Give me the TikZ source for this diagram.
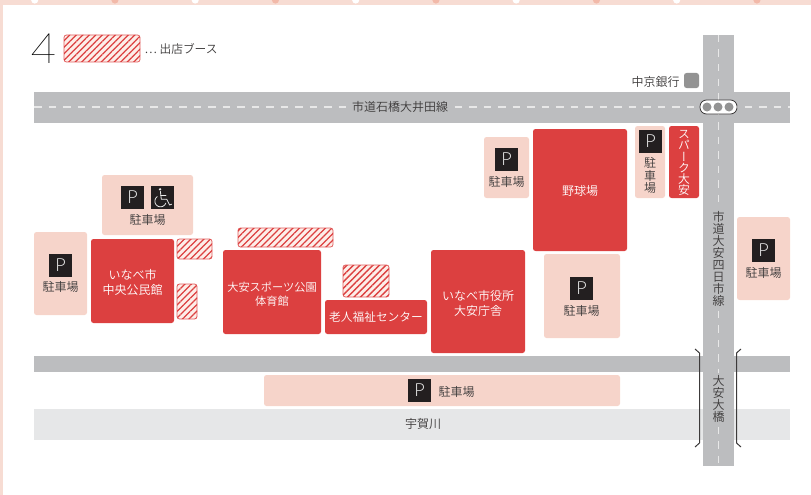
\documentclass[tikz,border=0pt]{standalone}
\usepackage{fontspec}
\usetikzlibrary{patterns.meta}
\setmainfont{Noto Sans CJK JP DemiLight}
\newfontfamily\vfont[RawFeature=+vert]{Noto Sans CJK JP DemiLight}
\newfontfamily\pfont{Lato Light}
\definecolor{redbox}{HTML}{DC4040}
\definecolor{lot}{HTML}{F6D4CA}
\definecolor{band}{HTML}{F7DCD3}
\definecolor{road}{HTML}{BCBDBF}
\definecolor{river}{HTML}{E6E7E8}
\definecolor{ink}{HTML}{3C3A3A}
\definecolor{iconbk}{HTML}{231F20}
\definecolor{dashc}{HTML}{E8E8E8}
\definecolor{hatchbg}{HTML}{FDEEE9}
\definecolor{dotpink}{HTML}{F2B9A9}
\tikzset{
  box/.style={inner sep=0pt,outer sep=0pt,rounded corners=2.5pt,align=center,font=\fontsize{12}{14.5}\selectfont},
  redb/.style={box,fill=redbox,text=white},
  lotb/.style={box,fill=lot},
  booth/.style={inner sep=0pt,outer sep=0pt,rounded corners=2.5pt,fill=hatchbg,draw=redbox!85,line width=0.8pt,
    postaction={pattern={Lines[angle=45,distance=4.6pt,line width=1.3pt]},pattern color=redbox}},
  picon/.style={fill=iconbk,text=white!92!black,minimum size=23pt,inner sep=0pt,outer sep=0pt,font=\pfont\fontsize{18}{18}\selectfont},
  lbl/.style={inner sep=0pt,text=ink,align=center,font=\fontsize{12}{12.5}\selectfont},
  wlbl/.style={lbl,text=white,font=\fontsize{12}{14.5}\selectfont},
  roadb/.style={fill=road,inner sep=0pt,outer sep=0pt},
  dashl/.style={draw=dashc,line width=1.2pt,dash pattern=on 7.5pt off 7pt},
  brk/.style={draw=ink,line width=1pt},
}
\newcommand\bx[7]{%
  \pgfmathsetmacro\cxx{(#2+#4)/2}\pgfmathsetmacro\cyy{(#3+#5)/2}%
  \pgfmathsetmacro\www{#4-#2}\pgfmathsetmacro\hhh{#5-#3}%
  \node[#6,minimum width=\www pt,minimum height=\hhh pt] (#1) at (\cxx,\cyy) {#7};}
\begin{document}
\begin{tikzpicture}[x=1pt,y=-1pt]
\useasboundingbox (0,0) rectangle (811,495);
\fill[band] (0,0) rectangle (811,5);
\fill[band] (0,0) rectangle (3,495);
\foreach \i/\c in {0/white,1/dotpink,2/white,3/dotpink,4/white,5/dotpink,6/white,7/dotpink,8/white,9/dotpink}{
  \fill[\c] ({34.7+80.25*\i},0) circle (3.6);
}
% title + legend
\node[inner sep=0pt,text=black,font=\fontspec{Poppins Thin}\fontsize{42}{42}\selectfont] (num) at (43.5,49) {4};
\bx{legend}{64}{35}{140}{62}{booth}{}
\node[lbl,anchor=west,font=\fontsize{11.7}{12}\selectfont] (legendt) at (144.5,49) {… 出店ブース};
% river, roads
\bx{riverb}{34}{409}{790}{440}{fill=river,inner sep=0pt,outer sep=0pt}{}
\bx{road2}{34}{356}{790}{372}{roadb}{}
\bx{road1}{34}{92}{790}{123}{roadb}{}
\bx{roadv}{703}{35}{734}{466}{roadb}{}
\draw[dashl] (34,107) -- (790,107);
\draw[dashl,dash phase=0pt] (718.5,35) -- (718.5,466);
\node[lbl,fill=road,inner xsep=6pt,inner ysep=1pt] (r1t) at (400,107) {市道石橋大井田線};
\node[lbl,fill=road,inner ysep=3pt,inner xsep=2pt,font=\fontsize{12}{12}\selectfont] (r2t) at (718.5,259) {市\\道\\大\\安\\四\\日\\市\\線};
\node[lbl,fill=road,inner ysep=3pt,inner xsep=2pt,font=\fontsize{12}{12}\selectfont] (r3t) at (718.5,399) {大\\安\\大\\橋};
\node[lbl] (rivt) at (423,424) {宇賀川};
% brackets
\draw[brk] (695,349) -- (699.5,353) -- (699.5,443) -- (695,447);
\draw[brk] (741,349) -- (736.5,353) -- (736.5,443) -- (741,447);
% bank
\bx{bank}{684}{73}{699}{88}{box,fill=gray!85}{}
\node[lbl] (bankt) at (655.5,82) {中京銀行};
% signal
\bx{signal}{700}{100}{737}{114}{box,rounded corners=6.5pt,fill=white,draw=ink,line width=0.8pt}{}
\foreach \n/\x in {a/707,b/718,c/729}{\node[circle,fill=gray!85,minimum size=9pt,inner sep=0pt] (s\n) at (\x,107) {};}
% parking lots
\bx{lotA}{34}{232}{87}{315}{lotb}{}
\bx{lotB}{102}{175}{193}{235}{lotb}{}
\bx{lotC}{484}{137}{529}{198}{lotb}{}
\bx{lotD}{635}{126}{665}{198}{lotb}{}
\bx{lotE}{544}{254}{620}{338}{lotb}{}
\bx{lotF}{264}{375}{620}{406}{lotb}{}
\bx{lotG}{737}{217}{790}{300}{lotb}{}
\node[picon] (pA) at (60.5,265.5) {P};
\node[lbl] (tA) at (60.5,287) {駐車場};
\node[picon] (pB) at (132.5,197.5) {P};
\node[picon] (wB) at (162.5,197.5) {};
\begin{scope}[draw=white!92!black,line width=0.8pt,line cap=round,line join=round]
  \fill[white!92!black] (160,189.3) circle (1.3);
  \draw (160.4,191.5) -- (161.3,199.3) -- (166.8,199.3) -- (169.6,205) -- (171.6,204.2);
  \draw (160.8,195) -- (166,195);
  \draw plot[smooth,domain=20:235,samples=24] ({160.5+5.6*cos(\x)},{201.2+5.6*sin(\x)});
\end{scope}
\node[lbl] (tB) at (147.5,220) {駐車場};
\node[picon] (pC) at (506.5,159.5) {P};
\node[lbl] (tC) at (506.5,182) {駐車場};
\node[picon] (pD) at (650.5,141.5) {P};
\node[lbl] (tD) at (650,175.5) {駐\\車\\場};
\node[picon] (pE) at (581.5,288.5) {P};
\node[lbl] (tE) at (581.5,311) {駐車場};
\node[picon] (pF) at (419.5,390.5) {P};
\node[lbl] (tF) at (456.5,392) {駐車場};
\node[picon] (pG) at (763.5,250.5) {P};
\node[lbl] (tG) at (763.5,273) {駐車場};
% facilities
\bx{chuo}{91}{239}{174}{323}{redb}{}
\node[wlbl] (chuot) at (132.5,282.5) {いなべ市\\中央公民館};
\bx{gym}{223}{250}{321}{334}{redb}{}
\node[wlbl,font=\fontsize{11.2}{14.5}\selectfont] (gymt) at (272,294) {大安スポーツ公園\\体育館};
\bx{roujin}{325}{300}{427}{334}{redb}{}
\node[wlbl,font=\fontsize{11.7}{14}\selectfont] (roujint) at (376,317) {老人福祉センター};
\bx{yakusho}{431}{250}{525}{353}{redb}{}
\node[wlbl] (yakushot) at (478,303.5) {いなべ市役所\\大安庁舎};
\bx{yakyu}{533}{129}{627}{251}{redb}{}
\node[wlbl] (yakyut) at (580,191) {野球場};
\bx{spark}{669}{126}{699}{198}{redb}{}
\node[wlbl,font=\vfont\fontsize{11.8}{11.2}\selectfont] (sparkt) at (684,163) {ス\\パ\\ー\\ク\\大\\安};
% booths
\bx{bootha}{177}{239}{212}{259}{booth}{}
\bx{boothb}{177}{284}{197}{319}{booth}{}
\bx{boothc}{238}{228}{333}{247}{booth}{}
\bx{boothd}{343}{265}{389}{297}{booth}{}
\end{tikzpicture}
\end{document}
